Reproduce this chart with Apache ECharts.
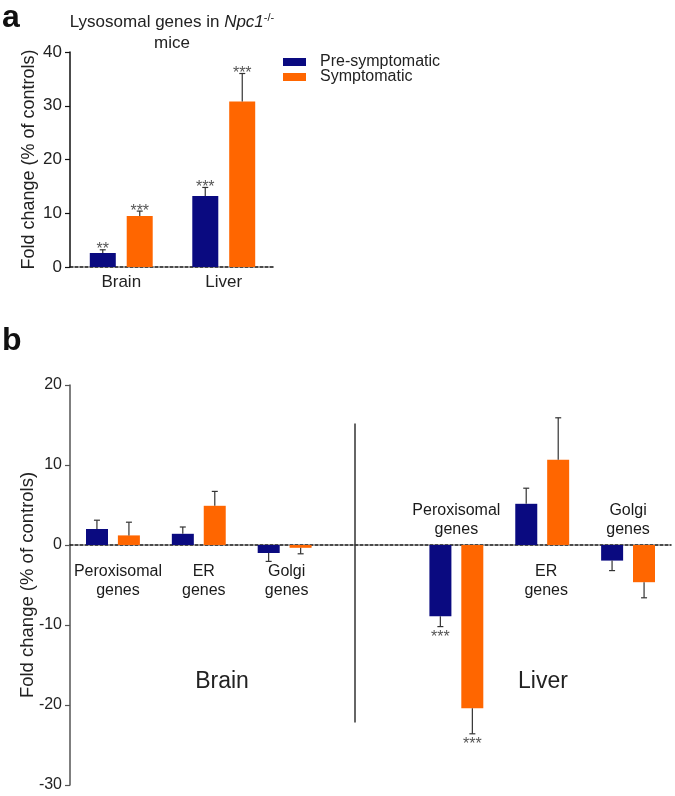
<!DOCTYPE html>
<html>
<head>
<meta charset="utf-8">
<script src="https://cdn.jsdelivr.net/npm/echarts@6/dist/echarts.min.js"></script>
<style>
  html, body { margin: 0; padding: 0; background: #ffffff; }
  #chart { width: 675px; height: 796px; }
</style>
</head>
<body>
<div id="chart"></div>
<script>
// ---------- Panel a data ----------
const aCategories = ['Brain', 'Liver'];
const aPre = [2.6, 13.2];
const aPreErr = [0.6, 1.6];
const aPreStars = ['**', '***'];
const aSym = [9.5, 30.8];
const aSymErr = [0.9, 5.2];
const aSymStars = ['***', '***'];
const aTicks = [0, 10, 20, 30, 40];

// ---------- Panel b data ----------
const bCategories = ['Brain Peroxisomal genes', 'Brain ER genes', 'Brain Golgi genes', '',
                     'Liver Peroxisomal genes', 'Liver ER genes', 'Liver Golgi genes'];
const bLabels = ['Peroxisomal\ngenes', 'ER\ngenes', 'Golgi\ngenes', '',
                 'Peroxisomal\ngenes', 'ER\ngenes', 'Golgi\ngenes'];
const bPre = [2.0, 1.4, -1.0, null, -8.9, 5.15, -1.95];
const bPreErr = [1.1, 0.85, 1.05, null, 1.3, 1.95, 1.25];
const bPreStars = ['', '', '', '', '***', '', ''];
const bSym = [1.2, 4.9, -0.35, null, -20.4, 10.65, -4.65];
const bSymErr = [1.65, 1.8, 0.75, null, 3.2, 5.25, 1.95];
const bSymStars = ['', '', '', '', '***', '', ''];
const bTicks = [-30, -20, -10, 0, 10, 20];
const bGroups = ['Brain', 'Liver'];

const seriesNames = ['Pre-symptomatic', 'Symptomatic'];
const BLUE = '#0a0a80';
const ORANGE = '#ff6600';
const FONT = '"Liberation Sans", Arial, Helvetica, sans-serif';

function errorBars(name, gridIdx, vals, errs, stars, offset, capHalf) {
  return {
    type: 'custom',
    name: name,
    xAxisIndex: gridIdx,
    yAxisIndex: gridIdx,
    z: 5,
    silent: true,
    data: vals.map((v, i) => (v == null ? [i, NaN, NaN] : [i, v, errs[i]])),
    renderItem: function (params, api) {
      const v = api.value(1), e = api.value(2);
      if (isNaN(v)) return null;
      const sign = v >= 0 ? 1 : -1;
      const base = api.coord([api.value(0), v]);
      const end = api.coord([api.value(0), v + sign * e]);
      const px = base[0] + offset;
      const children = [
        { type: 'line', shape: { x1: px, y1: base[1], x2: px, y2: end[1] },
          style: { stroke: '#333', lineWidth: 1.2 } },
        { type: 'line', shape: { x1: px - capHalf, y1: end[1], x2: px + capHalf, y2: end[1] },
          style: { stroke: '#333', lineWidth: 1.2 } }
      ];
      const s = stars[params.dataIndex];
      if (s) {
        children.push({
          type: 'text',
          x: px,
          y: sign > 0 ? end[1] + 8 : end[1] + 3,
          style: { text: s, fill: '#555', font: '16px ' + FONT, align: 'center',
                   verticalAlign: sign > 0 ? 'bottom' : 'top' }
        });
      }
      return { type: 'group', children: children };
    }
  };
}

const labelSide = ['below', 'below', 'below', '', 'above', 'below', 'above'];
const labelShift = [5, 5, 2, 0, 0, 4, 0];

const labelData = [];
bLabels.forEach((t, i) => {
  if (t === '') return;
  labelData.push({
    value: [i, labelSide[i] === 'above' ? 3.1 : -4.5],
    label: { formatter: t, offset: [labelShift[i], 0] }
  });
});

const chart = echarts.init(document.getElementById('chart'), null, { renderer: 'canvas' });

const option = {
  animation: false,
  backgroundColor: '#ffffff',
  textStyle: { fontFamily: FONT },
  legend: {
    data: seriesNames,
    orient: 'vertical',
    left: 283,
    top: 54,
    itemWidth: 23,
    itemHeight: 8,
    itemGap: -1,
    icon: 'rect',
    padding: 0,
    textStyle: { fontSize: 16, lineHeight: 14, color: '#222', padding: [0, 0, 0, 9], fontFamily: FONT }
  },
  grid: [
    { left: 70, top: 52, width: 205, height: 215, containLabel: false },
    { left: 70, top: 385, width: 601, height: 400, containLabel: false }
  ],
  xAxis: [
    {
      type: 'category', gridIndex: 0, data: aCategories,
      axisLine: { lineStyle: { color: '#111', width: 1.5, type: [3, 2] } },
      axisTick: { alignWithLabel: true, length: 5, lineStyle: { color: '#111', width: 1.2 } },
      axisLabel: { fontSize: 17, color: '#222', margin: 7, fontFamily: FONT }
    },
    {
      type: 'category', gridIndex: 1, data: bCategories,
      axisLine: { lineStyle: { color: '#111', width: 1.5, type: [3, 2] } },
      axisTick: { alignWithLabel: true, length: 4, inside: false, lineStyle: { color: '#111', width: 1.2 } },
      axisLabel: { show: false }
    }
  ],
  yAxis: [
    {
      type: 'value', gridIndex: 0, min: aTicks[0], max: aTicks[aTicks.length - 1], interval: 10,
      name: 'Fold change (% of controls)', nameLocation: 'middle', nameGap: 32, nameMoveOverlap: false,
      nameTextStyle: { fontSize: 18, color: '#222', fontFamily: FONT },
      axisLine: { show: true, lineStyle: { color: '#111', width: 1.5 } },
      axisTick: { show: true, length: 5, lineStyle: { color: '#111', width: 1.2 } },
      axisLabel: { fontSize: 17, color: '#222', margin: 8, fontFamily: FONT },
      splitLine: { show: false }
    },
    {
      type: 'value', gridIndex: 1, min: bTicks[0], max: bTicks[bTicks.length - 1], interval: 10,
      name: 'Fold change (% of controls)', nameLocation: 'middle', nameGap: 33, nameMoveOverlap: false,
      nameTextStyle: { fontSize: 18.5, color: '#222', fontFamily: FONT },
      axisLine: { show: true, lineStyle: { color: '#555', width: 1.5 } },
      axisTick: { show: true, length: 5, lineStyle: { color: '#555', width: 1.2 } },
      axisLabel: { fontSize: 16, color: '#222', margin: 8, fontFamily: FONT },
      splitLine: { show: false }
    }
  ],
  graphic: [
    { type: 'text', x: 2, y: 2, style: { text: 'a', font: 'bold 32px ' + FONT, fill: '#111' } },
    { type: 'text', x: 2, y: 325, style: { text: 'b', font: 'bold 32px ' + FONT, fill: '#111' } },
    {
      type: 'text', x: 172, y: 12,
      style: {
        text: '{n|Lysosomal genes in }{i|Npc1}{s|-/-}\n{n|mice}',
        align: 'center',
        fill: '#222',
        rich: {
          n: { fontSize: 17, fontFamily: FONT, fill: '#222', lineHeight: 21 },
          i: { fontSize: 17, fontFamily: FONT, fontStyle: 'italic', fill: '#222', lineHeight: 21 },
          s: { fontSize: 11, fontFamily: FONT, fill: '#222', verticalAlign: 'top', lineHeight: 21 }
        }
      }
    },
    { type: 'text', x: 222, y: 682, style: { text: bGroups[0], font: '23px ' + FONT, fill: '#222', align: 'center', verticalAlign: 'middle' } },
    { type: 'text', x: 543, y: 682, style: { text: bGroups[1], font: '23px ' + FONT, fill: '#222', align: 'center', verticalAlign: 'middle' } }
  ],
  series: [
    // Panel a
    { type: 'bar', name: seriesNames[0], xAxisIndex: 0, yAxisIndex: 0, data: aPre,
      barWidth: 26, barGap: '42%', itemStyle: { color: BLUE } },
    { type: 'bar', name: seriesNames[1], xAxisIndex: 0, yAxisIndex: 0, data: aSym,
      barWidth: 26, barGap: '42%', itemStyle: { color: ORANGE } },
    errorBars(seriesNames[0], 0, aPre, aPreErr, aPreStars, -18.5, 3),
    errorBars(seriesNames[1], 0, aSym, aSymErr, aSymStars, 18.5, 3),
    // Panel b
    { type: 'bar', name: seriesNames[0], xAxisIndex: 1, yAxisIndex: 1, data: bPre,
      barWidth: 22, barGap: '45%', itemStyle: { color: BLUE },
      markLine: {
        silent: true, symbol: 'none', label: { show: false },
        lineStyle: { color: '#333', width: 1.5, type: 'solid' },
        data: [[{ coord: [3, 15.2] }, { coord: [3, -22.2] }]]
      } },
    { type: 'bar', name: seriesNames[1], xAxisIndex: 1, yAxisIndex: 1, data: bSym,
      barWidth: 22, barGap: '45%', itemStyle: { color: ORANGE } },
    errorBars(seriesNames[0], 1, bPre, bPreErr, bPreStars, -16, 3),
    errorBars(seriesNames[1], 1, bSym, bSymErr, bSymStars, 16, 3),
    {
      type: 'scatter', xAxisIndex: 1, yAxisIndex: 1, symbolSize: 0, silent: true, z: 6,
      itemStyle: { opacity: 1 },
      data: labelData,
      label: {
        show: true, position: 'inside',
        fontSize: 16, lineHeight: 19, color: '#1a1a1a', opacity: 1, fontFamily: FONT,
        align: 'center', verticalAlign: 'middle'
      }
    }
  ]
};

chart.setOption(option);
</script>
</body>
</html>
